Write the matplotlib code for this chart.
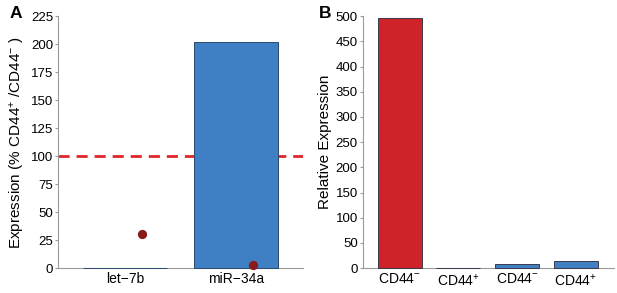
import numpy as np
import matplotlib.pyplot as plt

plt.rcParams['font.family'] = ['Liberation Sans', 'DejaVu Sans']
plt.rcParams['mathtext.fontset'] = 'custom'
plt.rcParams['mathtext.rm'] = 'Liberation Sans'
plt.rcParams['mathtext.it'] = 'Liberation Sans'

# Panel A data
mirnas = ['let\u22127b', 'miR\u221234a']
expr_bars = [0.5, 202]
expr_dots = [30, 3]
ref_level = 100

# Panel B data
cd44_labels = ['CD44$^{-}$', 'CD44$^{+}$', 'CD44$^{-}$', 'CD44$^{+}$']
rel_expr = [497, 0.5, 7.5, 15]
rel_colors = ['#d02329', '#d02329', '#3f7fc4', '#3f7fc4']

blue = '#3f7fc4'
spine_col = '#9a9a9a'

fig = plt.figure(figsize=(6.17, 2.93), dpi=100)
axA = fig.add_axes([0.094, 0.085, 0.397, 0.86])
axB = fig.add_axes([0.588, 0.085, 0.407, 0.86])

def style(ax):
    for s in ['top', 'right']:
        ax.spines[s].set_visible(False)
    for s in ['left', 'bottom']:
        ax.spines[s].set_color(spine_col)
        ax.spines[s].set_linewidth(0.8)
    ax.tick_params(axis='y', length=2, color=spine_col, labelsize=9.5, pad=1.5)
    ax.tick_params(axis='x', length=0, labelsize=10, pad=3)

# Panel A
xa = np.arange(len(mirnas))
axA.bar(xa, expr_bars, width=0.75, color=blue, edgecolor='#2b4a6e',
        linewidth=0.7, zorder=3, clip_on=False)
axA.scatter(xa + 0.15, expr_dots, s=32, color='#8b1a1a', zorder=4, clip_on=False)
axA.axhline(ref_level, color='#e0252b', linestyle=(0, (4, 2.5)), linewidth=2)
axA.set_xlim(-0.6, 1.6)
axA.set_ylim(0, 225)
axA.set_yticks(np.arange(0, 226, 25))
axA.set_xticks(xa)
axA.set_xticklabels(mirnas)
axA.set_ylabel('Expression (% CD44$^{+}$ /CD44$^{-}$ )', fontsize=11, labelpad=3)
style(axA)

# Panel B
xb = np.arange(len(cd44_labels))
axB.bar(xb, rel_expr, width=0.75, color=rel_colors, edgecolor='#3a3a4a',
        linewidth=0.7, zorder=3, clip_on=False)
axB.set_xlim(-0.63, 3.65)
axB.set_ylim(0, 500)
axB.set_yticks(np.arange(0, 501, 50))
axB.set_xticks(xb)
axB.set_xticklabels(cd44_labels)
axB.set_ylabel('Relative Expression', fontsize=11, labelpad=3)
style(axB)

fig.text(0.016, 0.955, 'A', fontsize=12.5, fontweight='bold', va='center')
fig.text(0.517, 0.955, 'B', fontsize=12.5, fontweight='bold', va='center')

fig.savefig('out.png', dpi=100)
